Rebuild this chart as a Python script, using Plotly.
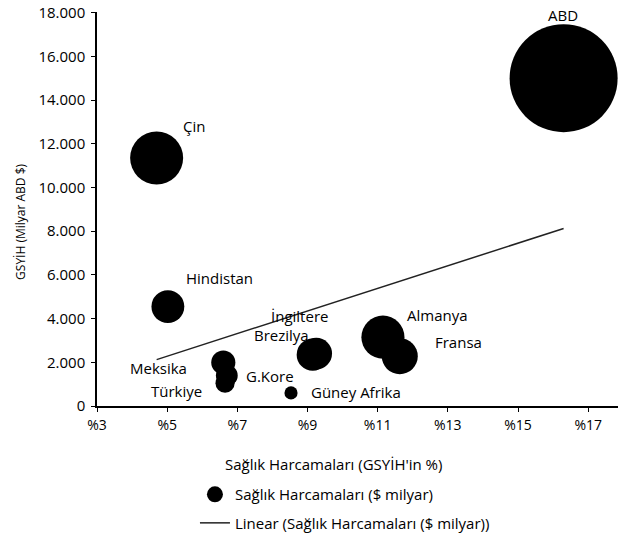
import numpy as np
import plotly.graph_objects as go

# ── Veriler ──────────────────────────────────────────────────────────────────
ulkeler = ["ABD", "Çin", "Hindistan", "Almanya", "Fransa", "İngiltere",
           "Brezilya", "Meksika", "G.Kore", "Türkiye", "Güney Afrika"]
saglik_gsyih_yuzde = [16.3, 4.7, 5.02, 11.15, 11.63, 9.25, 9.15, 6.6, 6.7, 6.65, 8.53]
gsyih_milyar = [15000, 11350, 4550, 3150, 2280, 2400, 2350, 1990, 1400, 1040, 600]
saglik_harcama_milyar = [2700, 650, 250, 430, 300, 230, 240, 135, 110, 85, 40]

# etiket konumları (veri koordinatlarında)
etiket_x = [16.28, 5.76, 6.48, 12.71, 13.29, 8.78, 8.27, 4.75, 7.93, 5.28, 10.38]
etiket_y = [17900, 12800, 5840, 4160, 2940, 4120, 3260, 1720, 1360, 680, 630]

y_tick_degerleri = [0, 2000, 4000, 6000, 8000, 10000, 12000, 14000, 16000, 18000]
x_tick_degerleri = [3, 5, 7, 9, 11, 13, 15, 17]

FONT = "Open Sans, sans-serif"
SIYAH = "#000000"

fig = go.Figure()

fig.add_trace(go.Scatter(
    x=saglik_gsyih_yuzde, y=gsyih_milyar,
    mode="markers",
    marker=dict(
        size=saglik_harcama_milyar,
        sizemode="area",
        sizeref=2.0 * max(saglik_harcama_milyar) / (108 ** 2),
        color=SIYAH,
        opacity=1,
        line=dict(width=0),
    ),
    name="Sağlık Harcamaları ($ milyar)",
    legendgroup="a",
))

# doğrusal eğilim çizgisi
egim, kesisim = np.polyfit(saglik_gsyih_yuzde, gsyih_milyar, 1)
x_trend = np.array([min(saglik_gsyih_yuzde), max(saglik_gsyih_yuzde)])
fig.add_trace(go.Scatter(
    x=x_trend, y=egim * x_trend + kesisim,
    mode="lines",
    line=dict(color="#222222", width=1.5),
    name="Linear (Sağlık Harcamaları ($ milyar))",
    legendgroup="b",
))

for ad, ex, ey in zip(ulkeler, etiket_x, etiket_y):
    fig.add_annotation(
        x=ex, y=ey, text=ad, showarrow=False,
        xanchor="center", yanchor="middle",
        font=dict(size=15, color=SIYAH, family=FONT),
    )

# eksen başlıkları
fig.add_annotation(
    xref="paper", yref="paper", x=0.453, y=-0.148,
    xanchor="center", yanchor="middle",
    text="Sağlık Harcamaları (GSYİH'in %)", showarrow=False,
    font=dict(size=15, color=SIYAH, family=FONT),
)
fig.add_annotation(
    xref="paper", yref="paper", x=-0.148, y=0.467, textangle=-90,
    xanchor="center", yanchor="middle",
    text="GSYİH (Milyar ABD $)", showarrow=False,
    font=dict(size=12, color=SIYAH, family=FONT),
)

fig.update_layout(
    width=620, height=551,
    paper_bgcolor="white", plot_bgcolor="white",
    font=dict(family=FONT, color=SIYAH, size=14),
    separators=",.",
    margin=dict(l=97, r=2, t=8, b=145),
    showlegend=True,
    legend=dict(
        x=0.188, y=-0.183, xanchor="left", yanchor="top",
        orientation="v", bgcolor="rgba(0,0,0,0)",
        font=dict(size=15), itemwidth=30, tracegroupgap=6,
    ),
)

fig.update_xaxes(
    range=[3, 17.85],
    tickvals=x_tick_degerleri,
    ticktext=[f"%{v}" for v in x_tick_degerleri],
    showgrid=False, zeroline=False,
    showline=True, linecolor=SIYAH, linewidth=1.5,
    ticks="outside", ticklen=4, tickcolor=SIYAH,
    ticklabelstandoff=1,
)
fig.update_yaxes(
    range=[0, 18030],
    tickvals=y_tick_degerleri,
    tickformat=",d",
    tickfont=dict(size=15),
    showgrid=False, zeroline=False,
    showline=True, linecolor=SIYAH, linewidth=1.5,
    ticks="outside", ticklen=4, tickcolor=SIYAH,
    ticklabelstandoff=3,
    ticklabeloverflow="allow",
)

fig.write_html(
    "out.html",
    config={"displayModeBar": False},
    post_script="document.body.style.margin='0';",
)
